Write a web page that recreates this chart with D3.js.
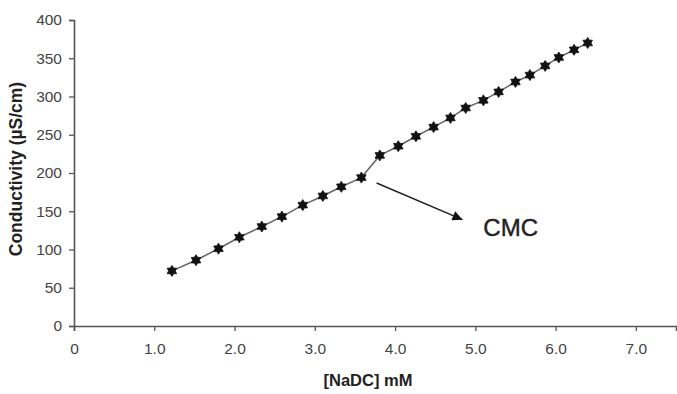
<!DOCTYPE html>
<html>
<head>
<meta charset="utf-8">
<script src="https://cdn.jsdelivr.net/npm/d3@7"></script>
<style>
  html, body { margin: 0; padding: 0; background: #fff; }
  svg { display: block; font-family: "Liberation Sans", Arial, sans-serif; }
</style>
</head>
<body>
<div id="chart"></div>
<script>
/* ---- data ---- */
const conc = [1.22, 1.52, 1.80, 2.06, 2.34, 2.59, 2.85, 3.10, 3.33, 3.58,
              3.81, 4.04, 4.26, 4.48, 4.69, 4.88, 5.10, 5.29, 5.50, 5.68,
              5.87, 6.04, 6.23, 6.40];
const cond = [72, 86, 101, 116, 130, 143, 158, 170, 182, 194,
              223, 235, 248, 260, 272, 285, 295, 306, 319, 328,
              340, 351, 361, 370];
const xTicks = [0, 1, 2, 3, 4, 5, 6, 7];
const yTicks = [0, 50, 100, 150, 200, 250, 300, 350, 400];
const cmcArrow = [[3.77, 187], [4.84, 139]];   // annotation, data coords
const cmcLabel = { x: 5.1, y: 118, text: 'CMC' };

const points = conc.map((c, i) => ({ x: c, y: cond[i] }));

const W = 677, H = 394;
const m = { top: 20, right: 1, bottom: 68, left: 74 };

const svg = d3.select('#chart').append('svg')
  .attr('width', W).attr('height', H);

const x = d3.scaleLinear().domain([0, 7.5]).range([m.left, W - m.right]);
const y = d3.scaleLinear().domain([0, 400]).range([H - m.bottom, m.top]);

/* axes */
const gx = svg.append('g')
  .attr('transform', `translate(0,${y(0)})`)
  .call(d3.axisBottom(x).tickValues(xTicks).tickSizeOuter(0).tickSize(5).tickPadding(12)
    .tickFormat(d => d === 0 ? '0' : d3.format('.1f')(d)));

const gy = svg.append('g')
  .attr('transform', `translate(${x(0)},0)`)
  .call(d3.axisLeft(y).tickValues(yTicks).tickSizeOuter(0).tickSize(5).tickPadding(7));

[gx, gy].forEach(g => {
  g.select('.domain').attr('stroke', '#555').attr('stroke-width', 1.6);
  g.selectAll('.tick line').attr('stroke', '#555').attr('stroke-width', 1.3);
  g.selectAll('.tick text').attr('fill', '#444').attr('font-size', 15.5)
    .attr('font-family', '"Liberation Sans", Arial, sans-serif');
});

/* axis titles */
svg.append('text')
  .attr('x', 368).attr('y', 386)
  .attr('text-anchor', 'middle')
  .attr('font-size', 16.5).attr('font-weight', 'bold').attr('fill', '#222')
  .text('[NaDC] mM');

svg.append('text')
  .attr('transform', `translate(22,${(80 + 258) / 2}) rotate(-90)`)
  .attr('text-anchor', 'middle')
  .attr('font-size', 17.5).attr('font-weight', 'bold').attr('fill', '#222')
  .text('Conductivity (µS/cm)');

/* line */
svg.append('path')
  .datum(points)
  .attr('fill', 'none')
  .attr('stroke', '#666')
  .attr('stroke-width', 1.5)
  .attr('d', d3.line().x(d => x(d.x)).y(d => y(d.y)));

/* six-point star marker */
const star6 = {
  draw(ctx, size) {
    const R = Math.sqrt(size) * 0.7, r = R * 0.6;
    for (let i = 0; i < 12; i++) {
      const a = Math.PI / 6 * i - Math.PI / 2;
      const rr = i % 2 ? r : R;
      const px = rr * Math.cos(a), py = rr * Math.sin(a);
      i ? ctx.lineTo(px, py) : ctx.moveTo(px, py);
    }
    ctx.closePath();
  }
};

svg.append('g')
  .selectAll('path')
  .data(points)
  .join('path')
    .attr('transform', d => `translate(${x(d.x)},${y(d.y)})`)
    .attr('d', d3.symbol().type(star6).size(62))
    .attr('fill', '#111')
    .attr('stroke', '#111')
    .attr('stroke-width', 0.8);

/* CMC annotation */
svg.append('defs').append('marker')
  .attr('id', 'arrow')
  .attr('viewBox', '0 0 10 10')
  .attr('refX', 10).attr('refY', 5)
  .attr('markerWidth', 13).attr('markerHeight', 10)
  .attr('markerUnits', 'userSpaceOnUse')
  .attr('orient', 'auto')
  .append('path')
    .attr('d', 'M0,0L10,5L0,10Z')
    .attr('fill', '#111');

svg.append('line')
  .attr('x1', x(cmcArrow[0][0])).attr('y1', y(cmcArrow[0][1]))
  .attr('x2', x(cmcArrow[1][0])).attr('y2', y(cmcArrow[1][1]))
  .attr('stroke', '#222').attr('stroke-width', 1.5)
  .attr('marker-end', 'url(#arrow)');

svg.append('text')
  .attr('x', x(cmcLabel.x)).attr('y', y(cmcLabel.y))
  .attr('font-size', 24).attr('fill', '#222')
  .attr('stroke', '#222').attr('stroke-width', 0.4)
  .text(cmcLabel.text);
</script>
</body>
</html>
